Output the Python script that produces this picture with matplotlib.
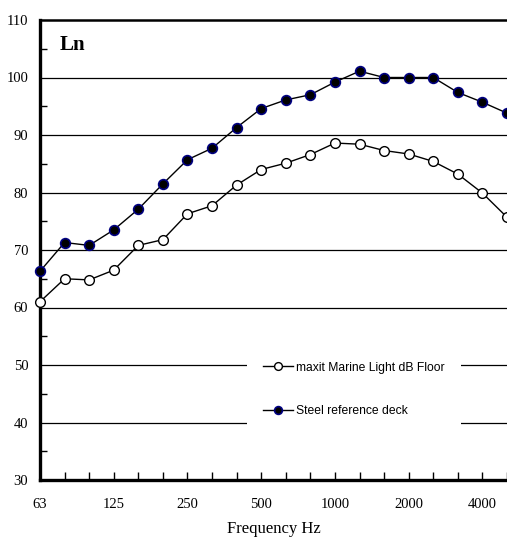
import numpy as np
import matplotlib
matplotlib.use("Agg")
import matplotlib.pyplot as plt

# 1/3-octave band centre frequencies
freqs = ["63", "80", "100", "125", "160", "200", "250", "315", "400", "500",
         "630", "800", "1000", "1250", "1600", "2000", "2500", "3150", "4000", "5000"]
tick_labels = ["63", "125", "250", "500", "1000", "2000", "4000"]

# Ln values (dB)
maxit_floor = [61.0, 65.0, 64.8, 66.5, 70.8, 71.8, 76.3, 77.7, 81.3, 84.0,
               85.1, 86.6, 88.6, 88.4, 87.3, 86.7, 85.4, 83.2, 79.9, 75.7]
steel_deck = [66.3, 71.3, 70.8, 73.5, 77.1, 81.5, 85.7, 87.7, 91.3, 94.6,
              96.1, 97.0, 99.2, 101.1, 100.0, 100.0, 100.0, 97.4, 95.7, 93.8]

W, H = 507, 545
fig = plt.figure(figsize=(W / 100, H / 100), dpi=100)
ax = fig.add_axes([40 / W, (H - 480) / H, (W - 40) / W, 460 / H])

x = np.arange(len(freqs))
ax.plot(x, maxit_floor, "-o", color="black", lw=1.0, ms=7, mfc="white",
        mec="black", mew=1.0, label="maxit Marine Light dB Floor", clip_on=False, zorder=4)
ax.plot(x, steel_deck, "-o", color="black", lw=1.0, ms=7, mfc="black",
        mec="#000080", mew=1.2, label="Steel reference deck", clip_on=False, zorder=4)

ax.set_xlim(0, (W - 40) / 24.9)
ax.set_ylim(30, 110)

ax.set_yticks(np.arange(30, 111, 10))
ax.set_yticks(np.arange(35, 110, 10), minor=True)
ax.set_xticks(x)
ax.set_xticklabels([f if f in tick_labels else "" for f in freqs])

for g in range(40, 101, 10):
    ax.axhline(g, color="black", lw=0.9, zorder=1)

for s in ["left", "bottom"]:
    ax.spines[s].set_linewidth(2.4)
ax.spines["top"].set_linewidth(1.8)
ax.spines["right"].set_visible(False)

ax.tick_params(axis="both", which="both", direction="in", width=1, colors="black")
ax.tick_params(axis="y", which="major", length=0, pad=8.5, labelsize=10.5)
ax.tick_params(axis="y", which="minor", length=5)
ax.tick_params(axis="x", length=6, pad=13, labelsize=10.5)
for lab in ax.get_xticklabels() + ax.get_yticklabels():
    lab.set_fontfamily("Liberation Serif")

ax.set_xlabel("Frequency Hz", fontfamily="Liberation Serif", fontsize=12, labelpad=7)

ax.text(0.043, 0.945, "Ln", transform=ax.transAxes, fontfamily="Liberation Serif",
        fontweight="bold", fontsize=15, va="center", ha="left")

leg = ax.legend(loc="upper left", bbox_to_anchor=(0.443, 0.293), borderaxespad=0,
                frameon=True, fancybox=False, edgecolor="none", facecolor="white",
                framealpha=1, prop={"family": "Liberation Sans", "size": 8.7},
                handlelength=2.5, handletextpad=0.2, labelspacing=2.6, borderpad=1.35,
                markerscale=0.8)
leg.set_zorder(5)

fig.savefig("out.png", dpi=100)
